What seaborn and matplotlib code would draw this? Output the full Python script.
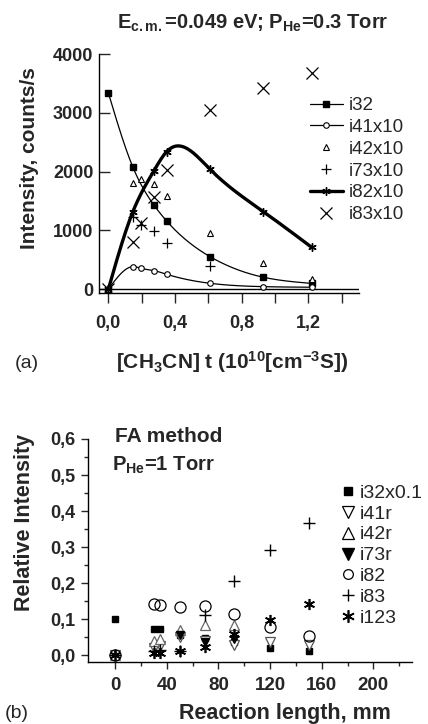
import numpy as np
import matplotlib
matplotlib.use("Agg")
import matplotlib.pyplot as plt
from matplotlib.lines import Line2D
import seaborn as sns

# ---- panel (a) data: [CH3CN] t (1e10 cm^-3 s) vs intensity (counts/s)
a_i32_x = [0, 0.146, 0.274, 0.35, 0.61, 0.93, 1.22]
a_i32_y = [3340, 2085, 1430, 1160, 555, 205, 100]
a_i41_x = [0, 0.146, 0.196, 0.274, 0.35, 0.61, 0.93, 1.22]
a_i41_y = [0, 385, 357, 317, 255, 102, 45, 35]
a_i42_x = [0, 0.146, 0.196, 0.274, 0.35, 0.61, 0.93, 1.22]
a_i42_y = [0, 1800, 1870, 1790, 1590, 950, 450, 170]
a_i73_x = [0, 0.146, 0.196, 0.274, 0.35, 0.61]
a_i73_y = [0, 1230, 1100, 990, 795, 400]
a_i82_x = [0, 0.146, 0.274, 0.35, 0.61, 0.93, 1.22]
a_i82_y = [0, 1310, 2017, 2340, 2040, 1320, 714]
a_i83_x = [0, 0.146, 0.196, 0.274, 0.35, 0.61, 0.93, 1.22]
a_i83_y = [0, 810, 1120, 1575, 2030, 3050, 3420, 3675]

a_xticks = [0.0, 0.4, 0.8, 1.2]
a_xticklabels = ["0,0", "0,4", "0,8", "1,2"]
a_xminor = [0.2, 0.6, 1.0, 1.4]
a_yticks = [0, 1000, 2000, 3000, 4000]
a_yticklabels = ["0", "1000", "2000", "3000", "4000"]

# ---- panel (b) data: reaction length (mm) vs relative intensity
b_i32_x = [0, 30, 35, 50, 70, 92, 120, 150]
b_i32_y = [0.100, 0.071, 0.071, 0.056, 0.048, 0.035, 0.020, 0.011]
b_i41_x = [0, 30, 35, 50, 70, 92, 120, 150]
b_i41_y = [0, 0.020, 0.025, 0.050, 0.040, 0.028, 0.037, 0.028]
b_i42_x = [0, 30, 35, 50, 70, 92]
b_i42_y = [0, 0.040, 0.045, 0.070, 0.083, 0.083]
b_i73_x = [50, 70, 92]
b_i73_y = [0.055, 0.035, 0.045]
b_i82_x = [0, 30, 35, 50, 70, 92, 120, 150]
b_i82_y = [0, 0.143, 0.139, 0.134, 0.137, 0.113, 0.079, 0.054]
b_i83_x = [0, 30, 35, 50, 70, 92, 120, 150]
b_i83_y = [0, 0.010, 0.015, 0.010, 0.111, 0.206, 0.293, 0.367]
b_i123_x = [0, 30, 35, 50, 70, 92, 120, 150]
b_i123_y = [0, 0.005, 0.005, 0.011, 0.023, 0.057, 0.097, 0.142]

b_xticks = [0, 40, 80, 120, 160, 200]
b_xticklabels = ["0", "40", "80", "120", "160", "200"]
b_xminor = [20, 60, 100, 140, 180, 220]
b_yticks = [0.0, 0.1, 0.2, 0.3, 0.4, 0.5, 0.6]
b_yticklabels = ["0,0", "0,1", "0,2", "0,3", "0,4", "0,5", "0,6"]
b_yminor = [0.05, 0.15, 0.25, 0.35, 0.45, 0.55]


def smooth(x, y, n=300):
    """Natural cubic spline through the points (for the connecting curves)."""
    x = np.asarray(x, float)
    y = np.asarray(y, float)
    m = len(x)
    h = np.diff(x)
    A = np.zeros((m, m))
    r = np.zeros(m)
    A[0, 0] = A[-1, -1] = 1
    for i in range(1, m - 1):
        A[i, i - 1] = h[i - 1]
        A[i, i] = 2 * (h[i - 1] + h[i])
        A[i, i + 1] = h[i]
        r[i] = 6 * ((y[i + 1] - y[i]) / h[i] - (y[i] - y[i - 1]) / h[i - 1])
    M = np.linalg.solve(A, r)
    xs = np.linspace(x[0], x[-1], n)
    k = np.clip(np.searchsorted(x, xs) - 1, 0, m - 2)
    x0, x1 = x[k], x[k + 1]
    hh = x1 - x0
    ys = (M[k] * (x1 - xs) ** 3 / (6 * hh) + M[k + 1] * (xs - x0) ** 3 / (6 * hh)
          + (y[k] / hh - M[k] * hh / 6) * (x1 - xs)
          + (y[k + 1] / hh - M[k + 1] * hh / 6) * (xs - x0))
    return xs, ys


sns.set_style("ticks")
plt.rcParams['font.family'] = ['Liberation Sans', 'DejaVu Sans']
plt.rcParams['mathtext.fontset'] = 'custom'
plt.rcParams['mathtext.rm'] = 'Liberation Sans:bold'
plt.rcParams['mathtext.bf'] = 'Liberation Sans:bold'
plt.rcParams['mathtext.it'] = 'Liberation Sans:bold:italic'

W, H = 428, 724
fig = plt.figure(figsize=(W / 100, H / 100), dpi=100)
fig.patch.set_facecolor('white')


def box(l, t, r, b):
    return [l / W, 1 - b / H, (r - l) / W, (b - t) / H]


def style_axes(ax):
    for s in ['top', 'right']:
        ax.spines[s].set_visible(False)
    for s in ['left', 'bottom']:
        ax.spines[s].set_linewidth(1.0)
        ax.spines[s].set_color('black')
    ax.set_facecolor('white')


# ================= panel (a)
ax = fig.add_axes(box(99, 54, 359, 293))
style_axes(ax)
ax.axhline(0, color='black', lw=1.0, zorder=1)

for xs_, ys_, lw in [(a_i32_x, a_i32_y, 0.9), (a_i41_x, a_i41_y, 0.9), (a_i82_x, a_i82_y, 2.4)]:
    sx, sy = smooth(xs_, ys_)
    sns.lineplot(x=sx, y=sy, ax=ax, color='black', lw=lw, zorder=2)

mk = dict(ls='none', color='black', zorder=3)
ax.plot(a_i32_x, a_i32_y, marker='s', ms=4.5, **mk)
ax.plot(a_i41_x, a_i41_y, marker='o', ms=4, mfc='white', mew=0.8, **mk)
ax.plot(a_i42_x, a_i42_y, marker='^', ms=4.5, mfc='white', mew=0.8, **mk)
ax.plot(a_i73_x, a_i73_y, marker='+', ms=7, mew=0.9, **mk)
ax.plot(a_i82_x, a_i82_y, marker=(6, 2, 0), ms=6, mew=1.0, **mk)
ax.plot(a_i83_x, a_i83_y, marker='x', ms=8, mew=0.9, **mk)

ax.set_xlim(-0.056, 1.504)
ax.set_ylim(-63, 4000)
ax.set_xticks(a_xticks)
ax.set_xticklabels(a_xticklabels, fontsize=13, fontweight='bold')
ax.set_xticks(a_xminor, minor=True)
ax.set_yticks(a_yticks)
ax.set_yticklabels(a_yticklabels, fontsize=13, fontweight='bold')
ax.tick_params(axis='x', which='both', direction='out', length=7, width=1, pad=9)
ax.tick_params(axis='y', which='both', direction='in', length=8, width=1, pad=4)
ax.set_xlabel('')
ax.set_ylabel('')

handles_a = [
    Line2D([], [], color='black', lw=0.9, marker='s', ms=4.5),
    Line2D([], [], color='black', lw=0.9, marker='o', ms=4, mfc='white', mew=0.8),
    Line2D([], [], color='black', ls='none', marker='^', ms=4.5, mfc='white', mew=0.8),
    Line2D([], [], color='black', ls='none', marker='+', ms=7, mew=0.9),
    Line2D([], [], color='black', lw=2.4, marker=(6, 2, 0), ms=6, mew=1.0),
    Line2D([], [], color='black', ls='none', marker='x', ms=8, mew=0.9),
]
labels_a = ['i32', 'i41x10', 'i42x10', 'i73x10', 'i82x10', 'i83x10']
fig.legend(handles_a, labels_a, loc='upper left', bbox_to_anchor=(310 / W, 1 - 97 / H),
           frameon=False, fontsize=13.5, handlelength=1.75, handletextpad=0.3,
           labelspacing=0.25, borderpad=0, borderaxespad=0)

fig.text(253 / W, 1 - 23 / H, r'E$_{\rm c.m.}$=0.049 eV; P$_{\rm He}$=0.3 Torr',
         ha='center', va='center', fontsize=14.5, fontweight='bold')
fig.text(30 / W, 1 - 158 / H, 'Intensity, counts/s', rotation=90,
         ha='center', va='center', fontsize=15, fontweight='bold')
fig.text(232 / W, 1 - 362 / H, r'[CH$_3$CN] t (10$^{10}$[cm$^{-3}$S])',
         ha='center', va='center', fontsize=15, fontweight='bold')
fig.text(15 / W, 1 - 363 / H, '(a)', ha='left', va='center', fontsize=14)

# ================= panel (b)
bx = fig.add_axes(box(88.3, 439, 411.7, 661.7))
style_axes(bx)

mk = dict(ls='none', zorder=3)
bx.plot(b_i32_x, b_i32_y, marker='s', ms=5, color='black', **mk)
bx.plot(b_i41_x, b_i41_y, marker='v', ms=7, mfc='white', mec='#555555', mew=0.9, **mk)
bx.plot(b_i42_x, b_i42_y, marker='^', ms=7, mfc='white', mec='#666666', mew=0.9, **mk)
bx.plot(b_i73_x, b_i73_y, marker='v', ms=6, color='black', **mk)
bx.plot(b_i82_x, b_i82_y, marker='o', ms=8, mfc='none', mec='black', mew=0.9, **mk)
bx.plot(b_i83_x, b_i83_y, marker='+', ms=9, color='black', mew=1.0, **mk)
bx.plot(b_i123_x, b_i123_y, marker=(6, 2, 0), ms=8, color='black', mew=1.2, **mk)

bx.set_xlim(-20.7, 229.7)
bx.set_ylim(-0.0186, 0.6)
bx.set_xticks(b_xticks)
bx.set_xticklabels(b_xticklabels, fontsize=13.5, fontweight='bold')
bx.set_xticks(b_xminor, minor=True)
bx.set_yticks(b_yticks)
bx.set_yticklabels(b_yticklabels, fontsize=13, fontweight='bold')
bx.set_yticks(b_yminor, minor=True)
bx.tick_params(axis='both', which='major', direction='out', length=5, width=1)
bx.tick_params(axis='both', which='minor', direction='out', length=3, width=1)
bx.tick_params(axis='x', which='major', pad=6)
bx.tick_params(axis='y', which='major', pad=4)

handles_b = [
    Line2D([], [], ls='none', color='black', marker='s', ms=6),
    Line2D([], [], ls='none', marker='v', ms=8, mfc='white', mec='black', mew=0.9),
    Line2D([], [], ls='none', marker='^', ms=8, mfc='white', mec='black', mew=0.9),
    Line2D([], [], ls='none', color='black', marker='v', ms=8),
    Line2D([], [], ls='none', marker='o', ms=7, mfc='none', mec='black', mew=0.9),
    Line2D([], [], ls='none', color='black', marker='+', ms=9, mew=1.0),
    Line2D([], [], ls='none', color='black', marker=(6, 2, 0), ms=9, mew=1.2),
]
labels_b = ['i32x0.1', 'i41r', 'i42r', 'i73r', 'i82', 'i83', 'i123']
fig.legend(handles_b, labels_b, loc='upper left', bbox_to_anchor=(340 / W, 1 - 484 / H),
           frameon=False, fontsize=14, handlelength=0.8, handletextpad=0.2,
           labelspacing=0.17, borderpad=0, borderaxespad=0)

fig.text(115 / W, 1 - 437 / H, 'FA method', ha='left', va='center',
         fontsize=15, fontweight='bold')
fig.text(112 / W, 1 - 465 / H, r'P$_{\rm He}$=1 Torr', ha='left', va='center',
         fontsize=14.5, fontweight='bold')
fig.text(25 / W, 1 - 522 / H, 'Relative Intensity', rotation=90,
         ha='center', va='center', fontsize=15.5, fontweight='bold')
fig.text(285 / W, 1 - 713 / H, 'Reaction length, mm', ha='center', va='center',
         fontsize=15.5, fontweight='bold')
fig.text(5 / W, 1 - 713 / H, '(b)', ha='left', va='center', fontsize=14)

fig.savefig('out.png', dpi=100, facecolor='white')
plt.close(fig)
